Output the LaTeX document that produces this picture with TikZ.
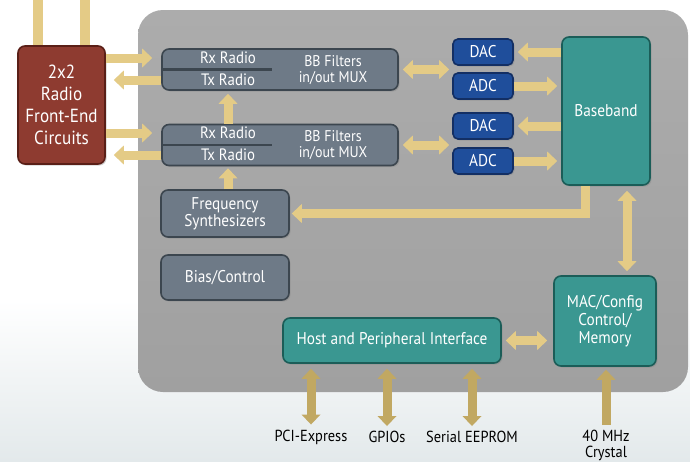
\documentclass[tikz,border=0pt]{standalone}
\usepackage{fontspec}
\setmainfont[FakeStretch=0.9]{PT Sans}
\usetikzlibrary{arrows.meta,shadows}

\definecolor{tanarrow}{HTML}{E4CB86}
\definecolor{tandark}{HTML}{C1A862}
\definecolor{chiptop}{HTML}{ACACAC}
\definecolor{chipbot}{HTML}{A0A0A0}
\definecolor{pagebot}{HTML}{E3E9EB}
\definecolor{redbox}{HTML}{8E3B30}
\definecolor{redline}{HTML}{5A1F17}
\definecolor{slatebox}{HTML}{6E7A87}
\definecolor{slateline}{HTML}{3C464F}
\definecolor{navybox}{HTML}{1F4E9B}
\definecolor{navyline}{HTML}{132F64}
\definecolor{tealbox}{HTML}{3A9791}
\definecolor{tealline}{HTML}{1B5D58}

\tikzset{
  tanhead/.tip={Triangle[length=10pt,width=19pt,line width=0pt]},
  blk/.style={rectangle,rounded corners=7pt,line width=1.6pt,text=white,align=center,inner sep=0pt,
    font=\fontsize{17}{17}\selectfont,
    drop shadow={opacity=0.35,shadow xshift=1.5pt,shadow yshift=-1.5pt}},
  redblk/.style={blk,fill=redbox,draw=redline},
  slateblk/.style={blk,fill=slatebox,draw=slateline},
  navyblk/.style={blk,fill=navybox,draw=navyline,rounded corners=5pt,minimum width=60pt,minimum height=26pt},
  tealblk/.style={blk,fill=tealbox,draw=tealline},
  lbl/.style={text=white,align=center,inner sep=0pt,font=\fontsize{16.5}{14}\selectfont},
  extlbl/.style={text=black,align=center,inner sep=0pt,font=\fontsize{16}{16}\selectfont},
  bigarrow/.style={draw=tanarrow,line width=9pt,-tanhead},
  bigboth/.style={bigarrow,tanhead-tanhead},
}

\begin{document}
\begin{tikzpicture}[x=1pt,y=-1pt]
  \useasboundingbox (0,0) rectangle (690,461);
  % page and chip
  \fill[white] (0,0) rectangle (690,461);
  \shade[top color=white,bottom color=pagebot] (0,300) rectangle (690,461);
  \shade[top color=chiptop,bottom color=chipbot,rounded corners=25pt] (138,10) rectangle (688,392);

  % blocks
  \node[redblk,minimum width=87pt,minimum height=118pt,font=\fontsize{19}{22}\selectfont] (fe) at (61.5,105)
    {2x2\\Radio\\Front-End\\Circuits};
  \node[slateblk,minimum width=236pt,minimum height=41pt] (mux1) at (280,69.5) {};
  \node[slateblk,minimum width=236pt,minimum height=41pt] (mux2) at (280,145) {};
  \draw[slateline,line width=2.5pt] (mux1.west) -- ++(111,0);
  \draw[slateline,line width=2.5pt] (mux2.west) -- ++(111,0);
  \node[lbl] (rx1) at (228,58) {Rx Radio};
  \node[lbl] (tx1) at (228,80) {Tx Radio};
  \node[lbl,font=\fontsize{15.5}{15.5}\selectfont] (flt1) at (333,70) {BB Filters\\in/out MUX};
  \node[lbl] (rx2) at (228,133) {Rx Radio};
  \node[lbl] (tx2) at (228,155) {Tx Radio};
  \node[lbl,font=\fontsize{15.5}{15.5}\selectfont] (flt2) at (333,145) {BB Filters\\in/out MUX};

  \node[navyblk] (dac1) at (483,52) {DAC};
  \node[navyblk] (adc1) at (483,86) {ADC};
  \node[navyblk] (dac2) at (483,126) {DAC};
  \node[navyblk] (adc2) at (483,161) {ADC};
  \node[tealblk,minimum width=88pt,minimum height=148pt] (bb) at (606,111) {Baseband};

  \node[slateblk,minimum width=128pt,minimum height=47pt] (freq) at (225,213.5) {Frequency\\Synthesizers};
  \node[slateblk,minimum width=128pt,minimum height=45pt] (bias) at (225,277.5) {Bias/Control};
  \node[tealblk,minimum width=218pt,minimum height=45pt] (host) at (392,340.5) {Host and Peripheral Interface};
  \node[tealblk,minimum width=102pt,minimum height=90pt,font=\fontsize{17}{18}\selectfont] (mac) at (605,321)
    {MAC/Config\\Control/\\Memory};

  % outside labels
  \node[extlbl] (pci) at (311,437) {PCI-Express};
  \node[extlbl] (gpio) at (387,437) {GPIOs};
  \node[extlbl] (eeprom) at (472,437) {Serial EEPROM};
  \node[extlbl,anchor=north] (xtal) at (606,430) {40 MHz\\Crystal};
  \coordinate (ant1) at (38,0);
  \coordinate (ant2) at (85,0);

  % connectors
  \draw[tanarrow,line width=10pt] (ant1) -- (fe.north -| ant1);
  \draw[tanarrow,line width=10pt] (ant2) -- (fe.north -| ant2);
  \draw[bigarrow] (fe.east |- rx1) -- ([xshift=-9pt]mux1.west |- rx1);
  \draw[bigarrow] (mux1.west |- tx1) -- ([xshift=8pt]fe.east |- tx1);
  \draw[bigarrow] (fe.east |- rx2) -- ([xshift=-9pt]mux2.west |- rx2);
  \draw[bigarrow] (mux2.west |- tx2) -- ([xshift=8pt]fe.east |- tx2);
  \draw[bigarrow] (mux2.north -| rx2) -- ([yshift=-3pt]mux1.south -| rx1);
  \draw[bigarrow] (freq.north -| tx2) -- ([yshift=-2pt]mux2.south -| tx2);

  \draw[bigboth] ([xshift=4pt]mux1.east) -- ([xshift=-3pt]dac1.west |- mux1.east);
  \draw[bigboth] ([xshift=4pt]mux2.east) -- ([xshift=-3pt]dac2.west |- mux2.east);
  \draw[bigarrow] (bb.west |- dac1) -- ([xshift=4pt]dac1.east);
  \draw[bigarrow] (adc1.east) -- ([xshift=-4pt]bb.west |- adc1);
  \draw[bigarrow] (bb.west |- dac2) -- ([xshift=4pt]dac2.east);
  \draw[bigarrow] (adc2.east) -- ([xshift=-4pt]bb.west |- adc2);

  \draw[bigarrow] ([xshift=-21pt]bb.south) |- ([xshift=2pt]freq.east);
  \draw[bigboth] ([xshift=21pt,yshift=-5pt]bb.south) -- ([xshift=22pt,yshift=4pt]mac.north);
  \draw[bigboth] ([xshift=4pt]host.east) -- ([xshift=-6pt]mac.west |- host.east);

  \draw[bigboth,draw=tandark] ([yshift=-5pt]host.south -| pci) -- ([yshift=5pt]pci.north);
  \draw[bigboth,draw=tandark] ([yshift=-5pt]host.south -| gpio) -- ([yshift=5pt]gpio.north);
  \draw[bigboth,draw=tandark] ([yshift=-5pt]host.south -| eeprom) -- ([yshift=5pt]eeprom.north);
  \draw[bigarrow,draw=tandark] ([yshift=5pt]xtal.north) -- ([yshift=-3pt]mac.south -| xtal);
\end{tikzpicture}
\end{document}
